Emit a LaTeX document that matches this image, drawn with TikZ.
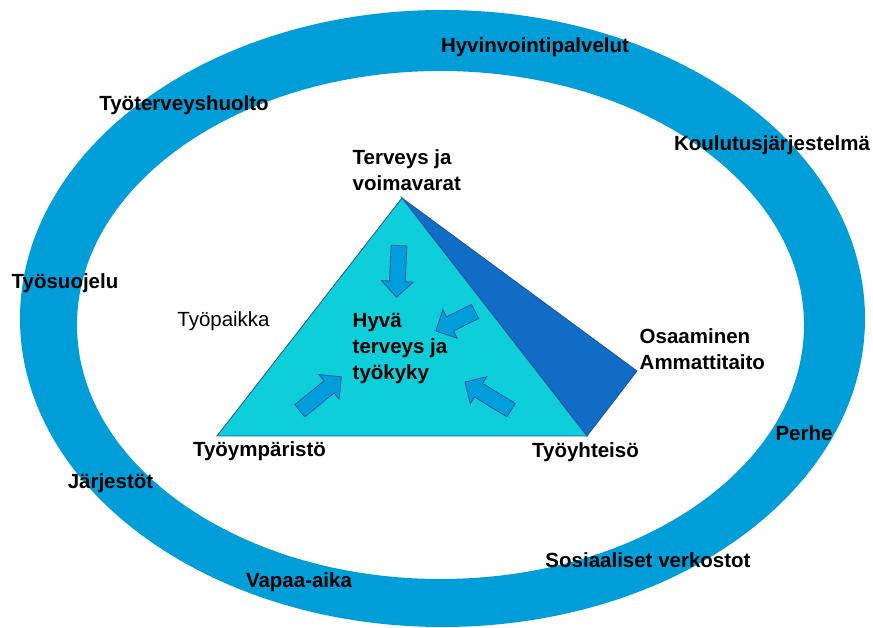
\documentclass[tikz,border=0pt]{standalone}
\usepackage{fontspec}
\setmainfont{Liberation Sans}
\usetikzlibrary{shapes.arrows}
\definecolor{ringblue}{RGB}{0, 158, 216}
\definecolor{facecyan}{RGB}{14, 206, 217}
\definecolor{sideblue}{RGB}{16, 108, 196}
\definecolor{edgeblue}{RGB}{28, 84, 158}
\definecolor{arrowblue}{RGB}{0, 158, 220}

\tikzset{
    label/.style   = {font=\fontsize{20.5}{26}\selectfont\bfseries, inner sep=0pt},
    plain/.style   = {font=\fontsize{20.5}{26}\selectfont, inner sep=0pt},
    stack/.style   = {label, align=left, anchor=west},
    inarrow/.style = {single arrow, draw=edgeblue, fill=arrowblue, line width=0.8pt,
                      inner sep=0pt, inner ysep=7.5pt, single arrow head extend=8pt,
                      single arrow tip angle=90, anchor=center}
}

\begin{document}
\begin{tikzpicture}[x=1pt, y=1pt]
            \useasboundingbox (0,0) rectangle (873,628);
            % ring
            \fill[ringblue, even odd rule] (442.5,309.5) ellipse [x radius=422.5pt, y radius=308.5pt]
                                           (440.5,303.0) ellipse [x radius=363.5pt, y radius=254.0pt];
            % pyramid
            \coordinate (apex)  at (402,430);
            \coordinate (left)  at (217,192);
            \coordinate (right) at (587,192);
            \coordinate (back)  at (637,257);
            \filldraw[color=edgeblue, fill=sideblue, line width=0.8pt] (apex) -- (right) -- (back) -- cycle;
            \filldraw[color=edgeblue, fill=facecyan, line width=0.8pt] (apex) -- (left) -- (right) -- cycle;
            % arrows towards the centre
            \node[inarrow, minimum height=51.7pt, rotate=-92.8] (intop)   at (398.0,360.5) {};
            \node[inarrow, minimum height=43.8pt, rotate=206.6] (inback)  at (458.9,308.5) {};
            \node[inarrow, minimum height=53.7pt, rotate=39.3]  (inleft)  at (317.5,231.7) {};
            \node[inarrow, minimum height=54.1pt, rotate=148.6] (inright) at (491.4,229.9) {};
            % pyramid texts
            \node[stack] (voimavarat) at (352.5,458.0) {Terveys ja\\voimavarat};
            \node[stack] (tyokyky)    at (352.5,279.6) {Hyvä\\terveys ja\\työkyky};
            \node[stack] (osaaminen)  at (639.5,278.8) {Osaaminen\\Ammattitaito};
            \node[label] (ymparisto)  at (259.5,176.5) {Työympäristö};
            \node[label] (yhteiso)    at (585.5,176.0) {Työyhteisö};
            \node[plain] (tyopaikka)  at (223.5,307.0) {Työpaikka};
            % ring texts
            \node[label] (hyvinvointi) at (535.0,581.0) {Hyvinvointipalvelut};
            \node[label] (tth)         at (184.0,523.0) {Työterveyshuolto};
            \node[label] (koulutus)    at (772.0,483.0) {Koulutusjärjestelmä};
            \node[label] (suojelu)     at ( 65.0,345.0) {Työsuojelu};
            \node[label] (perhe)       at (804.0,195.0) {Perhe};
            \node[label] (jarjestot)   at (110.5,144.5) {Järjestöt};
            \node[label] (verkostot)   at (648.0, 68.0) {Sosiaaliset verkostot};
            \node[label] (vapaa)       at (299.0, 45.3) {Vapaa-aika};
\end{tikzpicture}
\end{document}
